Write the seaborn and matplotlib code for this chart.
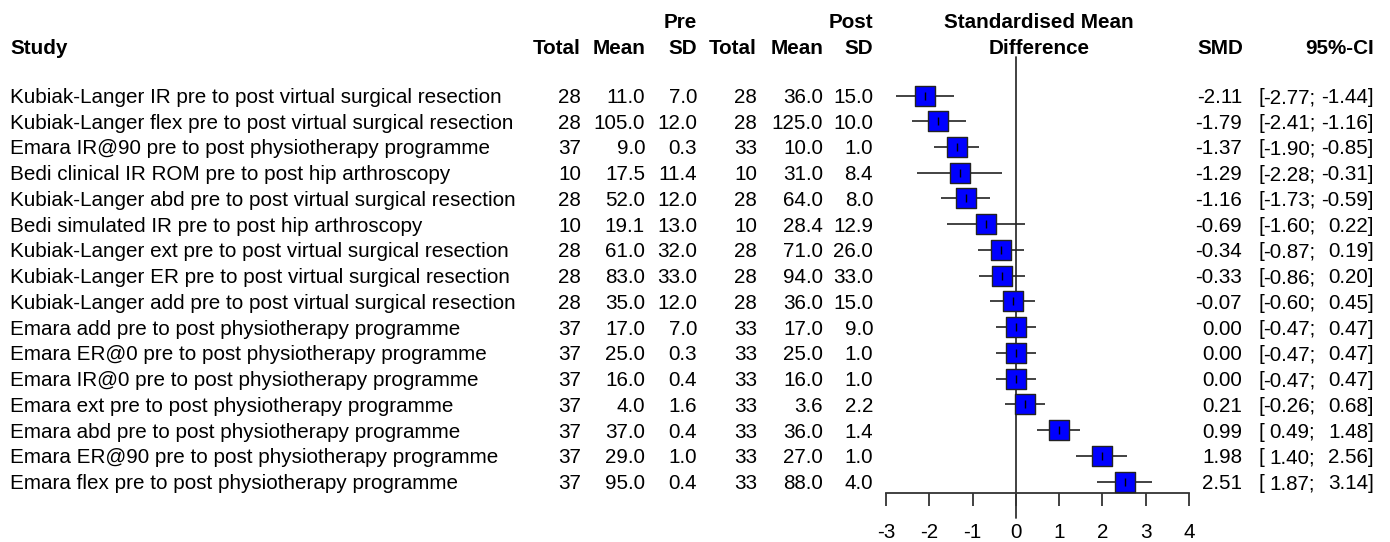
import matplotlib
matplotlib.use("Agg")
import matplotlib.pyplot as plt
from matplotlib import transforms
import numpy as np
import pandas as pd
import seaborn as sns

# ---------------- data ----------------
studies = [
    "Kubiak-Langer IR pre to post virtual surgical resection",
    "Kubiak-Langer flex pre to post virtual surgical resection",
    "Emara IR@90 pre to post physiotherapy programme",
    "Bedi clinical IR ROM pre to post hip arthroscopy",
    "Kubiak-Langer abd pre to post virtual surgical resection",
    "Bedi simulated IR pre to post hip arthroscopy",
    "Kubiak-Langer ext pre to post virtual surgical resection",
    "Kubiak-Langer ER pre to post virtual surgical resection",
    "Kubiak-Langer add pre to post virtual surgical resection",
    "Emara add pre to post physiotherapy programme",
    "Emara ER@0 pre to post physiotherapy programme",
    "Emara IR@0 pre to post physiotherapy programme",
    "Emara ext pre to post physiotherapy programme",
    "Emara abd pre to post physiotherapy programme",
    "Emara ER@90 pre to post physiotherapy programme",
    "Emara flex pre to post physiotherapy programme",
]
pre_total = [28, 28, 37, 10, 28, 10, 28, 28, 28, 37, 37, 37, 37, 37, 37, 37]
pre_mean = [11.0, 105.0, 9.0, 17.5, 52.0, 19.1, 61.0, 83.0, 35.0, 17.0, 25.0, 16.0, 4.0, 37.0, 29.0, 95.0]
pre_sd = [7.0, 12.0, 0.3, 11.4, 12.0, 13.0, 32.0, 33.0, 12.0, 7.0, 0.3, 0.4, 1.6, 0.4, 1.0, 0.4]
post_total = [28, 28, 33, 10, 28, 10, 28, 28, 28, 33, 33, 33, 33, 33, 33, 33]
post_mean = [36.0, 125.0, 10.0, 31.0, 64.0, 28.4, 71.0, 94.0, 36.0, 17.0, 25.0, 16.0, 3.6, 36.0, 27.0, 88.0]
post_sd = [15.0, 10.0, 1.0, 8.4, 8.0, 12.9, 26.0, 33.0, 15.0, 9.0, 1.0, 1.0, 2.2, 1.4, 1.0, 4.0]
smd = [-2.11, -1.79, -1.37, -1.29, -1.16, -0.69, -0.34, -0.33, -0.07, 0.00, 0.00, 0.00, 0.21, 0.99, 1.98, 2.51]
ci_low = [-2.77, -2.41, -1.90, -2.28, -1.73, -1.60, -0.87, -0.86, -0.60, -0.47, -0.47, -0.47, -0.26, 0.49, 1.40, 1.87]
ci_high = [-1.44, -1.16, -0.85, -0.31, -0.59, 0.22, 0.19, 0.20, 0.45, 0.47, 0.47, 0.47, 0.68, 1.48, 2.56, 3.14]
x_ticks = [-3, -2, -1, 0, 1, 2, 3, 4]

df = pd.DataFrame({
    "study": studies, "pre_total": pre_total, "pre_mean": pre_mean, "pre_sd": pre_sd,
    "post_total": post_total, "post_mean": post_mean, "post_sd": post_sd,
    "smd": smd, "ci_low": ci_low, "ci_high": ci_high,
})
df["row"] = np.arange(len(df))

# ---------------- style ----------------
sns.set_theme(style="white")
plt.rcParams["font.family"] = ["Liberation Sans", "DejaVu Sans"]
FS = 14.85
DARK = "#333333"

W, H = 1390, 542
fig = plt.figure(figsize=(W / 100, H / 100), dpi=100)
fig.patch.set_facecolor("white")

def fx(px):
    return px / W

def fy(py):
    return 1 - py / H

# forest axes
ax_top, ax_bot = 57, 493
ax = fig.add_axes([fx(886), fy(ax_bot), fx(1189) - fx(886), fy(ax_top) - fy(ax_bot)])
ax.patch.set_alpha(0)
row0, step = 95.5, (481.5 - 95.5) / 15
ax.set_xlim(-3, 4)
ax.set_ylim((ax_bot - row0) / step, (ax_top - row0) / step)

ax.hlines(df["row"], df["ci_low"], df["ci_high"], color="#222222", lw=1.2, zorder=2)
sns.scatterplot(data=df, x="smd", y="row", marker="s", s=200, color="#0000FF",
                edgecolor="#222222", linewidth=1.0, ax=ax, zorder=3, legend=False)
ax.scatter(df["smd"], df["row"], marker="|", s=40, color="black", linewidths=1.0, zorder=4)

ax.axvline(0, ymin=-(518 - ax_bot) / (ax_bot - ax_top), ymax=1, color=DARK, lw=1.3,
           clip_on=False, zorder=1)

for s in ["top", "left", "right"]:
    ax.spines[s].set_visible(False)
ax.spines["bottom"].set_color(DARK)
ax.spines["bottom"].set_linewidth(1.3)
ax.set_xticks(x_ticks)
ax.set_xticklabels([str(t) for t in x_ticks])
ax.set_yticks([])
ax.tick_params(axis="x", bottom=True, direction="out", length=9, width=1.3,
               color=DARK, pad=12.5, labelsize=FS, labelcolor="black")
ax.set_xlabel("")
ax.set_ylabel("")

# text axes (pixel x, row y)
tax = fig.add_axes([0, 0, 1, 1])
tax.set_xlim(0, W)
tax.set_ylim(H, 0)
tax.axis("off")
trow = transforms.blended_transform_factory(tax.transData, ax.transData)

def rtxt(x, y, s, ha="right", **kw):
    tax.text(x, y, s, ha=ha, va="center_baseline", fontsize=FS, color="black",
             transform=trow, clip_on=False, **kw)

for _, r in df.iterrows():
    y = r["row"]
    rtxt(10, y, r["study"], ha="left")
    rtxt(581, y, f"{r['pre_total']:d}")
    rtxt(645, y, f"{r['pre_mean']:.1f}")
    rtxt(697, y, f"{r['pre_sd']:.1f}")
    rtxt(757, y, f"{r['post_total']:d}")
    rtxt(823, y, f"{r['post_mean']:.1f}")
    rtxt(873, y, f"{r['post_sd']:.1f}")
    rtxt(1242, y, f"{r['smd']:.2f}")
    rtxt(1259, y, "[", ha="left")
    rtxt(1315, y, f"{r['ci_low']:.2f};")
    rtxt(1374, y, f"{r['ci_high']:.2f}]")

# headers
def htxt(x, y, s, ha="right"):
    tax.text(x, y, s, ha=ha, va="center_baseline", fontsize=FS, fontweight="bold",
             color="black")

htxt(10, 47, "Study", ha="left")
htxt(581, 47, "Total")
htxt(645, 47, "Mean")
htxt(697, 47, "SD")
htxt(697, 21, "Pre")
htxt(757, 47, "Total")
htxt(823, 47, "Mean")
htxt(873, 47, "SD")
htxt(873, 21, "Post")
htxt(1039, 21, "Standardised Mean", ha="center")
htxt(1039, 47, "Difference", ha="center")
htxt(1243, 47, "SMD")
htxt(1374, 47, "95%-CI")

fig.savefig("out.png", dpi=100, facecolor="white")
